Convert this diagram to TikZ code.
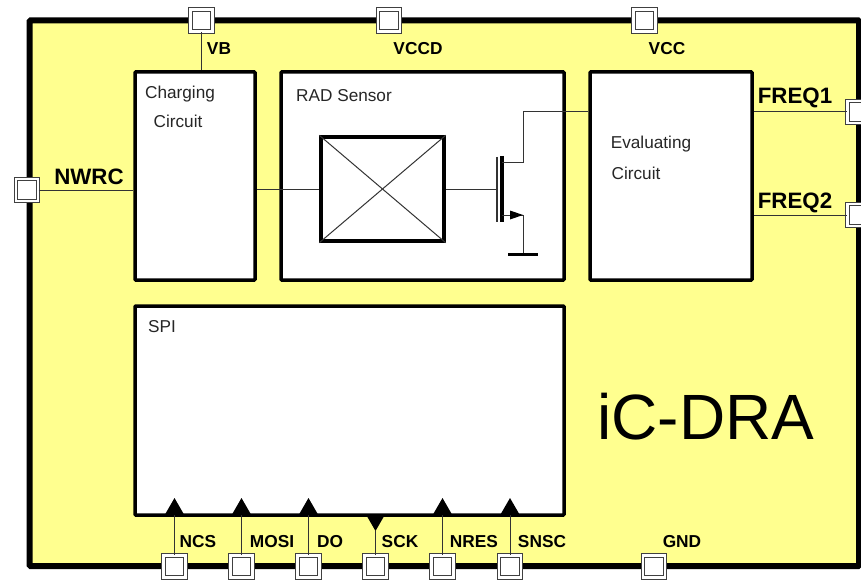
\documentclass[tikz,border=0pt]{standalone}
\usepackage{fontspec}
\setmainfont{Liberation Sans}
\usetikzlibrary{shapes.geometric, arrows.meta}
\definecolor{chipyellow}{HTML}{FFFF8F}
\tikzset{
    block/.style={draw=black, fill=white, line width=3.5pt, rounded corners=0.8pt, minimum width=#1},
    pad/.style={draw=black!75, double=white, line width=1pt, double distance=2.6pt, fill=white, minimum size=22pt, inner sep=0pt},
    pinlabel/.style={font=\fontsize{17.3}{17.3}\selectfont\bfseries, inner sep=0pt},
    outlabel/.style={font=\fontsize{22.3}{22.3}\selectfont\bfseries, inner sep=0pt},
    blocklabel/.style={font=\fontsize{17.2}{17.2}\selectfont, text=black!85, inner sep=0pt},
    wire/.style={draw=black!80, line width=1pt},
    pintip/.style={regular polygon, regular polygon sides=3, fill=black, inner sep=0pt, minimum size=22pt}
}
\begin{document}
\begin{tikzpicture}[x=1pt,y=-1pt]
    \useasboundingbox (0,0) rectangle (861,580);
    % Chip outline
    \draw[fill=chipyellow, line width=6pt, rounded corners=1pt] (29.5,20.5) rectangle (859,566);
    % Blocks
    \node[block=120pt, minimum height=208pt] (charging) at (195,176) {};
    \node[block=283pt, minimum height=208pt] (radsensor) at (422.5,176) {};
    \node[block=162pt, minimum height=208pt] (evaluating) at (671,176) {};
    \node[block=429pt, minimum height=209pt] (spi) at (349.5,410.5) {};
    \node[draw, line width=3.5pt, minimum width=123pt, minimum height=104pt, inner sep=0pt] (sensor) at (382.5,189) {};
    \draw[wire] (sensor.north west) -- (sensor.south east);
    \draw[wire] (sensor.south west) -- (sensor.north east);
    % Pads
    \node[pad] (vb) at (201.5,20.5) {};
    \node[pad] (vccd) at (389,20.5) {};
    \node[pad] (vcc) at (644.5,20.5) {};
    \node[pad] (nwrc) at (27,190) {};
    \node[pad] (freq1) at (858.5,112) {};
    \node[pad] (freq2) at (858.5,215) {};
    \node[pad] (gnd) at (654,566.5) {};
    % SPI pins
    \foreach \x/\pin in {174.5/ncs,241.5/mosi,308.5/do,442.5/nres,510/snsc} {
        \node[pad] (\pin) at (\x,566.5) {};
        \node[pintip] (\pin tip) at (\x,509) {};
        \draw[wire] (\pin) -- (\pin tip.south -| \pin);
    }
    \node[pad] (sck) at (375.5,566.5) {};
    \node[pintip, shape border rotate=180] (scktip) at (375.5,520) {};
    \draw[wire] (sck) -- (scktip.south);
    % Connections
    \draw[wire] (vb) -- (vb |- charging.north);
    \draw[wire] (nwrc) -- (nwrc -| charging.west);
    \draw[wire] (sensor.west -| charging.east) -- (sensor.west);
    \draw[wire] (evaluating.east |- freq1) -- (freq1);
    \draw[wire] (evaluating.east |- freq2) -- (freq2);
    % Transistor
    \coordinate (gate) at (497,189);
    \coordinate (drain) at (502,163);
    \coordinate (source) at (502,215);
    \coordinate (gndbar) at (523,254);
    \draw[wire] (sensor.east) -- (gate);
    \draw[line width=1.3pt, draw=black!80] (497,157) -- (497,222);
    \draw[line width=3.2pt] (502,156) -- (502,222);
    \draw[wire] (drain) -- (523,163) -- (523,112) -- (evaluating.west |- 523,112);
    \draw[wire] (source) -- (523,215) -- (gndbar);
    \fill (523,215) -- (510,210.5) -- (510,219.5) -- cycle;
    \draw[line width=3pt] (508,254) -- (538,254);
    % Labels
    \node[blocklabel] (chargingtext) at (180,94) {Charging};
    \node[blocklabel] (circuittext) at (178,121) {Circuit};
    \node[blocklabel] (radtext) at (344,96) {RAD Sensor};
    \node[blocklabel] (evaltext) at (651,144) {Evaluating};
    \node[blocklabel] (evalcircuit) at (636,173) {Circuit};
    \node[blocklabel] (spitext) at (162,327) {SPI};
    \node[font=\fontsize{64}{64}\selectfont, inner sep=0pt] (chipname) at (706,416.5) {iC-DRA};
    \node[outlabel] at (89,176.5) {NWRC};
    \node[outlabel] at (795,98) {FREQ1};
    \node[outlabel] at (795,203) {FREQ2};
    \foreach \x/\y/\lab in {219/48.5/VB,418/48.5/VCCD,667/48.5/VCC,198/541.5/NCS,272/541.5/MOSI,330/541.5/DO,400/541.5/SCK,474/541.5/NRES,542/541.5/SNSC,682/541.5/GND}
        \node[pinlabel] at (\x,\y) {\lab};
\end{tikzpicture}
\end{document}
